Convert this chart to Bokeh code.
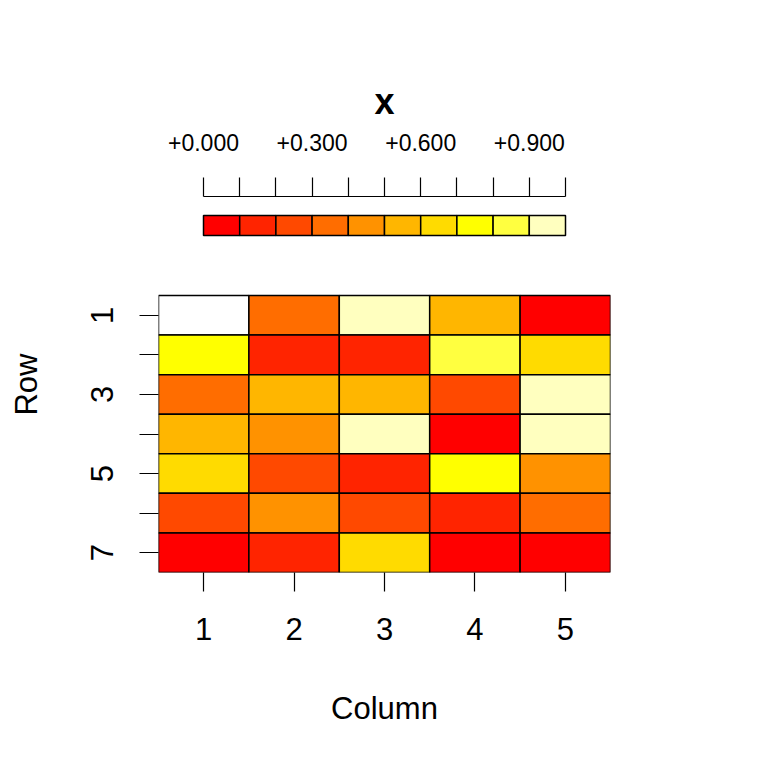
from bokeh.plotting import figure
from bokeh.models import Range1d, FixedTicker, LinearColorMapper, ColumnDataSource, LinearAxis
from bokeh.embed import file_html
from bokeh.resources import INLINE
from bokeh.transform import transform

nan = float("nan")

# ---- data ----
row_ids = [1, 2, 3, 4, 5, 6, 7]
col_ids = [1, 2, 3, 4, 5]
values = [
    [nan, 0.34, 0.95, 0.57, 0.03],
    [0.74, 0.13, 0.16, 0.86, 0.65],
    [0.36, 0.55, 0.52, 0.24, 0.93],
    [0.58, 0.44, 0.91, 0.06, 0.97],
    [0.63, 0.27, 0.12, 0.72, 0.46],
    [0.22, 0.43, 0.25, 0.17, 0.38],
    [0.08, 0.14, 0.66, 0.02, 0.05],
]
breaks = [0.0, 0.1, 0.2, 0.3, 0.4, 0.5, 0.6, 0.7, 0.8, 0.9, 1.0]
palette = ["#FF0000", "#FF2400", "#FF4900", "#FF6D00", "#FF9200",
           "#FFB600", "#FFDB00", "#FFFF00", "#FFFF40", "#FFFFBF"]
key_label_ticks = [0.0, 0.3, 0.6, 0.9]
key_labels = ["+0.000", "+0.300", "+0.600", "+0.900"]
x_label = "Column"
y_label = "Row"
key_title = "x"

FONT = "Liberation Sans"
W = 760
H = 760

# ---- layout geometry (pixels) ----
FL, FR, FT, FB = 158, 610, 196, 572      # frame box
CELL_TOP = 295                            # top of heat map cells
KEY_L, KEY_R = 203, 565                   # key extent
KEY_T, KEY_B = 215, 235                   # key boxes

n_rows = len(row_ids)
row_px = (FB - CELL_TOP) / n_rows
y_top = 0.5 - (CELL_TOP - FT) / row_px

key_w = KEY_R - KEY_L
kx0 = -(KEY_L - FL) / key_w
kx1 = 1 + (FR - KEY_R) / key_w
key_h = KEY_B - KEY_T
ky0 = -(FB - KEY_B) / key_h
ky1 = 1 + (KEY_T - FT) / key_h

mapper = LinearColorMapper(palette=palette, low=breaks[0], high=breaks[-1], nan_color="white")

p = figure(width=W, height=H, x_range=Range1d(0.5, len(col_ids) + 0.5),
           y_range=Range1d(n_rows + 0.5, y_top),
           toolbar_location=None, output_backend="svg",
           min_border_top=FT, min_border_bottom=H - FB,
           min_border_left=FL, min_border_right=W - FR)
p.extra_x_ranges = {"key": Range1d(kx0, kx1)}
p.extra_y_ranges = {"key": Range1d(ky0, ky1)}
p.outline_line_color = None
p.xgrid.visible = False
p.ygrid.visible = False

main_x = p.below[0]
main_y = p.left[0]

# heat map cells
xs, ys, vs = [], [], []
for i, r in enumerate(row_ids):
    for j, c in enumerate(col_ids):
        xs.append(c)
        ys.append(r)
        vs.append(values[i][j])
src = ColumnDataSource(dict(x=xs, y=ys, v=vs))
p.rect(x="x", y="y", width=1, height=1, source=src,
       fill_color=transform("v", mapper), line_color="black", line_width=1.5)

# key boxes
p.quad(left=breaks[:-1], right=breaks[1:], bottom=0, top=1,
       fill_color=palette, line_color="black", line_width=1.5,
       x_range_name="key", y_range_name="key")

# key axis
ka = LinearAxis(x_range_name="key", bounds=(breaks[0], breaks[-1]))
ka.ticker = FixedTicker(ticks=breaks)
ov = {b: "" for b in breaks}
for t, lab in zip(key_label_ticks, key_labels):
    ov[t] = lab
ka.major_label_overrides = ov
ka.major_tick_out = 19
ka.major_tick_in = 0
ka.minor_tick_out = 0
ka.minor_tick_in = 0
ka.axis_line_color = "black"
ka.axis_line_width = 1.2
ka.major_tick_line_color = "black"
ka.major_tick_line_width = 1.2
ka.major_label_text_font = FONT
ka.major_label_text_font_size = "23px"
ka.major_label_text_color = "black"
ka.major_label_standoff = 27
p.add_layout(ka, "above")

# title of the key
p.title.text = key_title
p.title.text_font = FONT
p.title.text_font_size = "36px"
p.title.text_font_style = "bold"
p.title.text_color = "black"
p.title.align = "center"
p.title.standoff = 17

for ax in (main_x, main_y):
    ax.major_tick_out = 19
    ax.major_tick_in = 0
    ax.minor_tick_out = 0
    ax.minor_tick_in = 0
    ax.axis_line_color = None
    ax.major_tick_line_color = "black"
    ax.major_tick_line_width = 1.2
    ax.major_label_text_font = FONT
    ax.major_label_text_font_size = "31px"
    ax.major_label_text_color = "black"
    ax.axis_label_text_font = FONT
    ax.axis_label_text_font_size = "31px"
    ax.axis_label_text_font_style = "normal"
    ax.axis_label_text_color = "black"

main_x.ticker = FixedTicker(ticks=col_ids)
main_x.axis_label = x_label
main_x.major_label_standoff = 26
main_x.axis_label_standoff = 48

main_y.ticker = FixedTicker(ticks=row_ids)
main_y.major_label_overrides = {r: ("" if r % 2 == 0 else str(r)) for r in row_ids}
main_y.major_label_orientation = "vertical"
main_y.axis_label = y_label
main_y.major_label_standoff = 26
main_y.axis_label_standoff = 45

open("out.html", "w").write(file_html(p, INLINE))
